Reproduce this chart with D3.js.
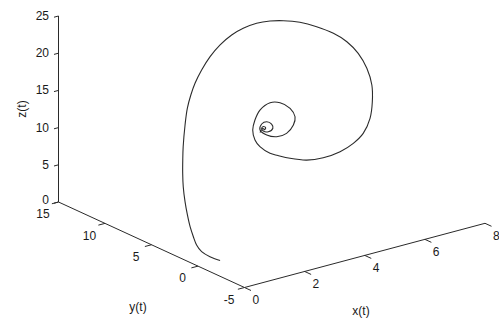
<!DOCTYPE html>
<html>
<head>
<meta charset="utf-8">
<script src="https://cdn.jsdelivr.net/npm/d3@7"></script>
<style>
  html, body { margin: 0; padding: 0; background: #fff; }
  svg { display: block; }
  text { font-family: "Liberation Sans", Arial, sans-serif; font-size: 12px; fill: #1a1a1a; }
</style>
</head>
<body>
<div id="chart"></div>
<script>
// Trajectory samples (x(t), y(t), z(t))
const xs = [0.58,0.49,0.43,0.51,0.65,0.82,1.04,1.27,1.52,1.78,2.03,2.26,2.57,2.80,3.01,3.18,3.40,3.62,3.86,4.12,4.35,4.61,4.87,5.10,5.40,5.71,6.02,6.22,6.35,6.39,6.34,6.17,5.97,5.65,5.29,4.85,4.32,3.83,3.37,3.06,2.89,2.71,2.70,2.81,3.07,3.36,3.76,4.06,4.27,4.28,4.07,3.72,3.33,3.03,2.93,3.14,3.37,3.50,3.48,3.25,3.07,3.06,3.17,3.24,3.17,3.13,2.99];
const ys = [-0.5,0.3,1.0,1.8,2.6,3.5,4.5,5.5,6.5,7.4,8.2,8.9,9.7,10.2,10.5,10.6,10.6,10.4,10.1,9.7,9.2,8.6,8.0,7.3,6.5,5.7,4.9,4.1,3.3,2.5,1.8,1.2,0.8,0.5,0.4,0.4,0.5,0.7,1.0,1.3,1.6,2.1,2.6,3.2,3.8,4.2,4.4,4.3,3.9,3.4,2.9,2.5,2.3,2.4,2.8,3.3,3.5,3.4,3.2,2.95,2.9,3.05,3.2,3.2,3.1,3.13,3.0];
const zs = [0.42,0.56,0.90,1.25,1.76,2.41,3.17,4.13,5.30,6.30,7.36,8.49,10.62,12.33,13.72,15.05,16.60,18.27,19.76,21.04,21.98,22.72,23.09,23.29,23.21,22.74,21.98,21.10,19.85,18.26,16.47,14.75,12.97,11.46,10.57,9.92,9.62,9.72,10.28,10.82,11.13,11.92,12.54,13.42,14.14,14.94,15.38,15.11,14.37,13.51,12.91,12.40,12.48,12.98,13.53,13.82,13.76,13.37,12.94,12.86,13.18,13.47,13.51,13.26,13.15,13.32,13.01];

// Axis limits and tick values
const xDomain = [0, 8];
const yDomain = [-5, 15];
const zDomain = [0, 25];
const xTicks = [0, 2, 4, 6, 8];
const yTicks = [-5, 0, 5, 10, 15];
const zTicks = [0, 5, 10, 15, 20, 25];

const W = 499, H = 322;
const svg = d3.select("#chart").append("svg").attr("width", W).attr("height", H);

// Oblique 3-D view: each axis maps its value to a 2-D screen offset
const corner = [244.5, 287.5];              // screen point of (xmin, ymin, zmin)
const xVec = d3.scaleLinear().domain(xDomain).range([[0, 0], [240.5, -64.2]]);
const yVec = d3.scaleLinear().domain(yDomain).range([[0, 0], [-186, -85.5]]);
const zVec = d3.scaleLinear().domain(zDomain).range([[0, 0], [0, -186]]);

function project(x, y, z) {
  const a = xVec(x), b = yVec(y), c = zVec(z);
  return [corner[0] + a[0] + b[0] + c[0], corner[1] + a[1] + b[1] + c[1]];
}

const axisColor = "#2a2a2a";
const g = svg.append("g");

// Axis lines
const axisSegs = [
  [project(xDomain[0], yDomain[0], zDomain[0]), project(xDomain[1], yDomain[0], zDomain[0])],
  [project(xDomain[0], yDomain[0], zDomain[0]), project(xDomain[0], yDomain[1], zDomain[0])],
  [project(xDomain[0], yDomain[1], zDomain[0]), project(xDomain[0], yDomain[1], zDomain[1])]
];
g.selectAll("line.axis").data(axisSegs).join("line")
  .attr("class", "axis")
  .attr("x1", d => d[0][0]).attr("y1", d => d[0][1])
  .attr("x2", d => d[1][0]).attr("y2", d => d[1][1])
  .attr("stroke", axisColor).attr("stroke-width", 1);

// x ticks point outward along -y
g.selectAll("line.xt").data(xTicks).join("line")
  .attr("class", "xt")
  .attr("x1", v => project(v, yDomain[0], 0)[0]).attr("y1", v => project(v, yDomain[0], 0)[1])
  .attr("x2", v => project(v, yDomain[0] - 0.7, 0)[0]).attr("y2", v => project(v, yDomain[0] - 0.7, 0)[1])
  .attr("stroke", axisColor);
g.selectAll("text.xl").data(xTicks).join("text")
  .attr("class", "xl")
  .attr("x", v => project(v, yDomain[0], 0)[0] + 11.3)
  .attr("y", v => project(v, yDomain[0], 0)[1] + 12.7)
  .attr("text-anchor", "middle").attr("dominant-baseline", "central")
  .text(v => v);

// y ticks point outward along -x
g.selectAll("line.yt").data(yTicks).join("line")
  .attr("class", "yt")
  .attr("x1", v => project(0, v, 0)[0]).attr("y1", v => project(0, v, 0)[1])
  .attr("x2", v => project(-0.22, v, 0)[0]).attr("y2", v => project(-0.22, v, 0)[1])
  .attr("stroke", axisColor);
g.selectAll("text.yl").data(yTicks).join("text")
  .attr("class", "yl")
  .attr("x", v => project(0, v, 0)[0] - 15.5)
  .attr("y", v => project(0, v, 0)[1] + 12.3)
  .attr("text-anchor", "middle").attr("dominant-baseline", "central")
  .text(v => v);

// z ticks point outward along -x
g.selectAll("line.zt").data(zTicks).join("line")
  .attr("class", "zt")
  .attr("x1", v => project(0, yDomain[1], v)[0]).attr("y1", v => project(0, yDomain[1], v)[1])
  .attr("x2", v => project(-0.15, yDomain[1], v)[0]).attr("y2", v => project(-0.15, yDomain[1], v)[1])
  .attr("stroke", axisColor);
g.selectAll("text.zl").data(zTicks).join("text")
  .attr("class", "zl")
  .attr("x", v => project(0, yDomain[1], v)[0] - 9.5)
  .attr("y", v => project(0, yDomain[1], v)[1] - (v === zDomain[0] ? 2.5 : 0))
  .attr("text-anchor", "end").attr("dominant-baseline", "central")
  .text(v => v);

// Axis titles
svg.append("text").attr("x", 361).attr("y", 311)
  .attr("text-anchor", "middle").attr("dominant-baseline", "central").text("x(t)");
svg.append("text").attr("x", 138).attr("y", 306.5)
  .attr("text-anchor", "middle").attr("dominant-baseline", "central").text("y(t)");
svg.append("text").attr("transform", "translate(22,109) rotate(-90)")
  .attr("text-anchor", "middle").attr("dominant-baseline", "central").text("z(t)");

// Trajectory
const pts = xs.map((x, i) => project(x, ys[i], zs[i]));
const line = d3.line().curve(d3.curveCatmullRom.alpha(0.5));
svg.append("path")
  .attr("d", line(pts))
  .attr("fill", "none")
  .attr("stroke", "#2b2b2b")
  .attr("stroke-width", 1.1)
  .attr("stroke-linejoin", "round");
</script>
</body>
</html>
